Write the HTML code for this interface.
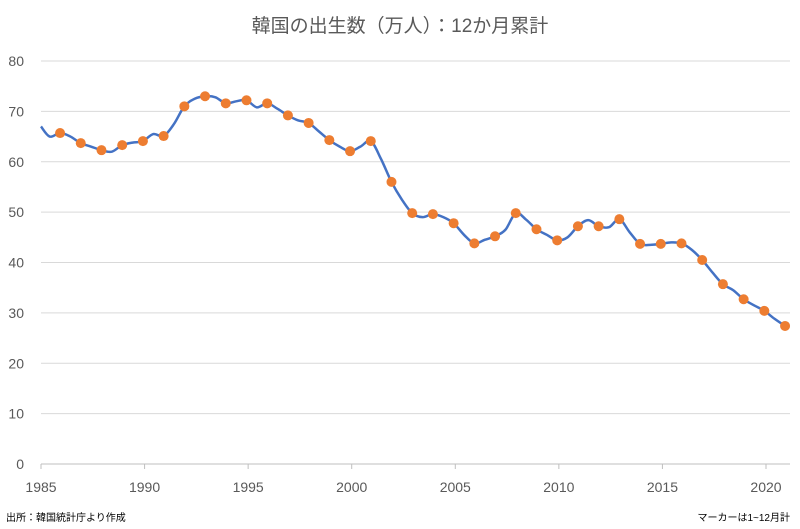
<!DOCTYPE html>
<html><head><meta charset="utf-8"><style>
body{margin:0;background:#fff;font-family:"Liberation Sans","Noto Sans CJK JP",sans-serif;}
</style></head><body>
<svg width="800" height="524" xmlns="http://www.w3.org/2000/svg" id="c" style="font-family:'Liberation Sans','Noto Sans CJK JP',sans-serif">
<text x="400" y="32" text-anchor="middle" font-size="19" fill="#595959">韓国の出生数（万人）：12か月累計</text>
<g id="grid"></g><g id="axes"></g><g id="series"></g>
<text x="6" y="521" font-size="10" fill="#000">出所：韓国統計庁より作成</text>
<text x="790" y="521" font-size="10" fill="#000" text-anchor="end">マーカーは1~12月計</text>
</svg>
<script>
const yTicks=[0,10,20,30,40,50,60,70,80];
const xTicks=[1985,1990,1995,2000,2005,2010,2015,2020];
const markerYears=[1986,1987,1988,1989,1990,1991,1992,1993,1994,1995,1996,1997,1998,1999,2000,2001,2002,2003,2004,2005,2006,2007,2008,2009,2010,2011,2012,2013,2014,2015,2016,2017,2018,2019,2020,2021];
const markerValues=[65.7,63.7,62.3,63.3,64.1,65.1,71.0,73.0,71.6,72.2,71.6,69.2,67.7,64.3,62.1,64.1,56.0,49.8,49.6,47.8,43.8,45.2,49.8,46.6,44.4,47.2,47.2,48.6,43.7,43.7,43.8,40.5,35.7,32.7,30.4,27.4];
const lineStartValue=67.0;
const lineMidValues=[65.0,65.0,63.0,62.0,63.8,65.5,67.5,72.5,72.8,72.0,70.8,70.5,68.2,66.0,63.0,63.0,60.5,52.5,49.0,49.0,45.5,44.5,46.5,48.5,45.5,45.0,48.4,47.0,46.0,43.5,44.0,42.5,38.0,34.5,31.5,28.8];
const NS="http://www.w3.org/2000/svg";
const x=t=>41+(t-1985)*(725/35);
const y=v=>464-v*(403/80);
function mk(tag,attrs,parent){const e=document.createElementNS(NS,tag);for(const k in attrs)e.setAttribute(k,attrs[k]);document.getElementById(parent).appendChild(e);return e;}
yTicks.forEach(v=>{
 const l=mk('line',{x1:41,x2:790,y1:y(v),y2:y(v),stroke:v===0?'#bfbfbf':'#d9d9d9','stroke-width':1},'grid');
 
 
 const t=mk('text',{x:24,y:y(v)+5,'text-anchor':'end','font-size':14,fill:'#595959'},'axes');
 t.textContent=v;
 
 
});
xTicks.forEach(v=>{
 const tk=mk('line',{x1:x(v),x2:x(v),y1:464,y2:469,stroke:'#bfbfbf'},'axes');
 
 
 const t=mk('text',{x:x(v),y:492,'text-anchor':'middle','font-size':14,fill:'#595959'},'axes');
 t.textContent=v;
 
 
});
// build line points
const pts=[[x(1985),y(lineStartValue)]];
markerYears.forEach((yr,i)=>{
 pts.push([x(yr-1+0.42),y(lineMidValues[i])]);
 pts.push([x(yr-1+0.92),y(markerValues[i])]);
});
let d='M'+pts[0][0]+','+pts[0][1];
for(let i=0;i<pts.length-1;i++){
 const p0=pts[Math.max(0,i-1)],p1=pts[i],p2=pts[i+1],p3=pts[Math.min(pts.length-1,i+2)];
 const c1=[p1[0]+(p2[0]-p0[0])/6,p1[1]+(p2[1]-p0[1])/6];
 const c2=[p2[0]-(p3[0]-p1[0])/6,p2[1]-(p3[1]-p1[1])/6];
 d+=` C${c1[0]},${c1[1]} ${c2[0]},${c2[1]} ${p2[0]},${p2[1]}`;
}
const path=mk('path',{d:d,fill:'none',stroke:'#4472c4','stroke-width':2.5,'stroke-linejoin':'round'},'series');


markerYears.forEach((yr,i)=>{
 const c=mk('circle',{cx:x(yr-1+0.92),cy:y(markerValues[i]),r:5,fill:'#ed7d31'},'series');
 
 
});
</script>
</body></html>
